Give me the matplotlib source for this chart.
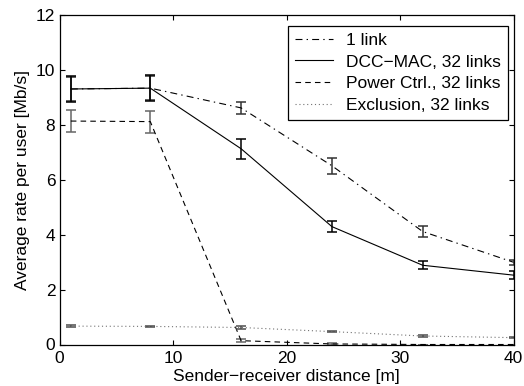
import matplotlib

matplotlib.use("Agg")
import matplotlib.pyplot as plt

# sender-receiver distance [m]
distance = [1, 8, 16, 24, 32, 40]

# average rate per user [Mb/s] and error half-widths
one_link = [9.32, 9.35, 8.63, 6.52, 4.12, 3.00]
one_link_err = [0.45, 0.45, 0.22, 0.30, 0.20, 0.10]
dcc_mac = [9.32, 9.35, 7.14, 4.30, 2.89, 2.53]
dcc_mac_err = [0.47, 0.47, 0.36, 0.21, 0.14, 0.15]
power_ctrl = [8.15, 8.13, 0.14, 0.02, 0.0, 0.0]
power_ctrl_err = [0.40, 0.40, 0.06, 0.02, 0.0, 0.0]
exclusion = [0.67, 0.66, 0.62, 0.47, 0.31, 0.25]
exclusion_err = [0.03, 0.03, 0.04, 0.03, 0.02, 0.02]

labels = ["1 link", "DCC\u2212MAC, 32 links", "Power Ctrl., 32 links", "Exclusion, 32 links"]
x_ticks = [0, 10, 20, 30, 40]
y_ticks = [0, 2, 4, 6, 8, 10, 12]

plt.rcParams["font.family"] = ["Liberation Sans", "DejaVu Sans"]
plt.rcParams["font.size"] = 12.5
plt.rcParams["lines.scale_dashes"] = False

fig = plt.figure(figsize=(5.24, 3.86), dpi=100)
ax = fig.add_axes([59.5 / 524, 41.5 / 386, 454 / 524, 329 / 386])

series = [
    (one_link, one_link_err, (0, (5, 3, 1, 3)), "black", "0.2"),
    (dcc_mac, dcc_mac_err, "-", "black", "black"),
    (power_ctrl, power_ctrl_err, (0, (4, 3)), "black", "0.4"),
    (exclusion, exclusion_err, (0, (0.8, 2)), "0.45", "0.3"),
]
handles = []
for (vals, errs, ls, color, ecolor), label in zip(series, labels):
    ax.errorbar(distance, vals, yerr=errs, fmt="none", ecolor=ecolor,
                elinewidth=1.1, capsize=3.3, capthick=1.1)
    (line,) = ax.plot(distance, vals, linestyle=ls, color=color, lw=0.8, label=label)
    handles.append(line)

ax.set_xlim(0, 40)
ax.set_ylim(0, 12)
ax.set_xticks(x_ticks)
ax.set_yticks(y_ticks)
ax.tick_params(axis="both", direction="in", top=True, right=True, length=3.5, width=0.8)
ax.tick_params(axis="x", pad=4.5)
ax.tick_params(axis="y", pad=3)
for sp in ax.spines.values():
    sp.set_linewidth(0.9)

ax.set_xlabel("Sender\u2212receiver distance [m]", labelpad=2)
ax.set_ylabel("Average rate per user [Mb/s]", labelpad=4)

leg = ax.legend(handles=handles, loc="upper right",
                bbox_to_anchor=(448.5 / 454, 318.8 / 329), borderaxespad=0,
                fancybox=False, framealpha=1, edgecolor="black",
                handlelength=2.2, handletextpad=0.75, labelspacing=0.38,
                borderpad=0.4)
leg.get_frame().set_linewidth(0.9)

fig.savefig("out.png", dpi=100)
plt.close(fig)
